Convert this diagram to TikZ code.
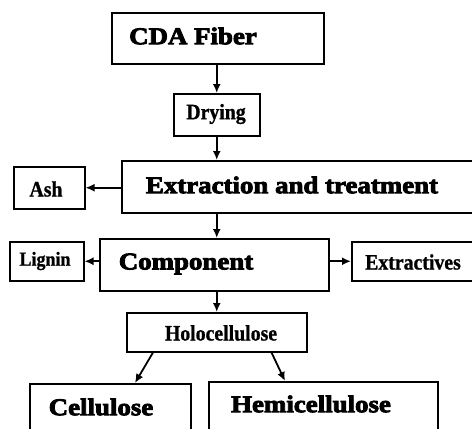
\documentclass[tikz,border=0pt]{standalone}
\usepackage{fontspec}
\setmainfont{Liberation Serif}
\newfontfamily\heavyfont[FakeBold=3.5,FakeStretch=1.12]{Liberation Serif}
\newfontfamily\smallfont[FakeBold=1,FakeStretch=0.9]{Liberation Serif}
\usepackage{tikz}
\usetikzlibrary{positioning}
\usetikzlibrary{arrows.meta}
\tikzset{
  box/.style={draw=black, line width=1.5pt, anchor=north west, inner sep=0pt},
  bigtxt/.style={font=\heavyfont\bfseries\fontsize{24}{26}\selectfont, inner sep=0pt},
  smalltxt/.style={font=\smallfont\bfseries\fontsize{22}{24}\selectfont, inner sep=0pt},
  arr/.style={-{Latex[length=9pt,width=8pt]}, line width=1.8pt},
}

\begin{document}
\begin{tikzpicture}[x=1pt,y=-1pt]
        \useasboundingbox (0,0) rectangle (472,429);
        \clip (0,0) rectangle (472,429);
        %Boxes
        \node [box, minimum width=212pt, minimum height=51pt] (cda) at (111,12) {};
        \node [box, minimum width=86pt, minimum height=42pt] (dry) at (173,93) {};
        \node [box, minimum width=370pt, minimum height=52pt] (ext) at (121,160) {};
        \node [box, minimum width=71pt, minimum height=42pt] (ash) at (13,166) {};
        \node [box, minimum width=229pt, minimum height=52pt] (comp) at (99,238) {};
        \node [box, minimum width=74pt, minimum height=39pt] (lig) at (9,241) {};
        \node [box, minimum width=140pt, minimum height=39pt] (extr) at (351,241) {};
        \node [box, minimum width=180pt, minimum height=39pt] (holo) at (126,312) {};
        \node [box, minimum width=161pt, minimum height=60pt] (cell) at (29,383) {};
        \node [box, minimum width=229pt, minimum height=60pt] (hemi) at (208,381) {};
        %Texts
        \node [bigtxt] (cdatxt) at (193,36) {CDA Fiber};
        \node [smalltxt] (drytxt) at (216,114) {Drying};
        \node [bigtxt] (exttxt) at (292,185) {Extraction and treatment};
        \node [smalltxt] (ashtxt) at (46,189) {Ash};
        \node [bigtxt] (comptxt) at (186,264) {Component};
        \node [smalltxt, font=\smallfont\bfseries\fontsize{20}{22}\selectfont] (ligtxt) at (45,261) {Lignin};
        \node [smalltxt] (extrtxt) at (413,262) {Extractives};
        \node [smalltxt] (holotxt) at (221,333) {Holocellulose};
        \node [bigtxt] (celltxt) at (101,407) {Cellulose};
        \node [bigtxt] (hemitxt) at (311,404) {Hemicellulose};
        %Arrows
        \draw [arr] (cda.south -| dry.north) -- (dry.north);
        \draw [arr] (dry.south) -- (dry.south |- ext.north);
        \draw [arr] (ext.west |- ash.east) -- (ash.east);
        \draw [arr] (dry.south |- ext.south) -- (dry.south |- comp.north);
        \draw [arr] (comp.west |- lig.east) -- (lig.east);
        \draw [arr] (comp.east |- extr.west) -- (extr.west);
        \draw [arr] (dry.south |- comp.south) -- (dry.south |- holo.north);
        \draw [arr] ([xshift=27pt]holo.south west) -- ([xshift=106pt]cell.north west);
        \draw [arr] ([xshift=-36pt]holo.south east) -- ([xshift=77pt]hemi.north west);
\end{tikzpicture}
\end{document}
